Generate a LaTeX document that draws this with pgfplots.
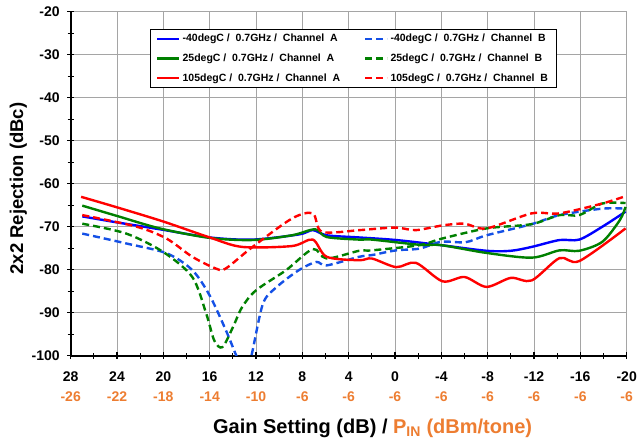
\documentclass[border=0pt]{standalone}
\usepackage{pgfplots}
\pgfplotsset{compat=1.18}
\usepackage{fontspec}
\setmainfont{Liberation Sans}
\definecolor{pinorange}{RGB}{237,125,49}
\definecolor{gridgray}{RGB}{165,165,165}
\definecolor{dblue}{RGB}{20,80,230}
\definecolor{sgreen}{RGB}{0,128,0}

\pgfplotstableread{
x y
27 -67.6
24 -69.0
20.3 -70.6
16 -72.5
12.3 -73.0
8.3 -71.8
7.1 -70.8
5.9 -72.0
3.1 -72.5
-0.1 -73.1
-4 -74.3
-7.9 -75.6
-10 -75.6
-11.8 -74.7
-14.2 -73.1
-15.9 -73.0
-17.9 -70.0
-19.9 -66.5
}\coldA
\pgfplotstableread{
x y
27 -71.6
23.2 -73.9
19.7 -76.2
17.5 -80.1
16 -86.0
14.6 -94.1
13.7 -100
13.0 -104
12.4 -100
11.4 -87.9
10.2 -84.0
8.3 -80.1
6.8 -78.2
5.9 -79.0
3.1 -77.0
2 -76.6
-0.1 -75.5
-2.1 -75.1
-4 -73.5
-6.1 -73.6
-7.9 -72.0
-11.8 -69.4
-14.2 -67.3
-17.9 -65.8
-19.9 -65.8
}\coldB
\pgfplotstableread{
x y
27 -65.1
24 -67.5
20.3 -70.4
16 -72.6
12.3 -73.1
8.9 -72.0
6.9 -70.6
5.9 -72.4
3.1 -73.0
2 -73.0
-2.1 -74.2
-4 -74.3
-7.9 -76.1
-11.8 -77.2
-14.2 -75.5
-15.9 -75.6
-17.9 -73.5
-19.4 -68.5
-19.9 -65.4
}\roomA
\pgfplotstableread{
x y
27 -69.3
23.2 -71.6
20 -75.9
17.5 -81.7
16.3 -90.2
15.6 -96.5
14.9 -98.0
14 -93.4
13.2 -88.7
12 -84.8
9.4 -80.1
7.1 -75.2
5.9 -77.4
3.1 -75.6
2 -75.5
-2.1 -74.3
-4 -72.8
-7.9 -70.4
-11.8 -69.4
-14.2 -67.3
-15.9 -67.3
-17.9 -64.6
-19.9 -64.5
}\roomB
\pgfplotstableread{
x y
27.1 -63.05
24 -65.5
20 -68.8
16 -72.5
13.2 -74.7
8.9 -74.5
7.1 -73.0
5.9 -77.0
3.1 -77.8
2 -77.4
-0.1 -79.4
-1.8 -78.4
-4.1 -82.7
-6 -81.7
-7.9 -84.0
-10 -81.9
-11.8 -82.5
-14.2 -77.3
-15.9 -78.0
-19.9 -70.4
}\hotA
\pgfplotstableread{
x y
27 -67.3
22.3 -70.0
19.7 -72.8
17.5 -77.0
15.4 -79.8
14.6 -79.7
12.3 -74.7
8.9 -68.1
7.1 -66.9
6.3 -71.2
3.1 -70.8
2.2 -70.6
-0.1 -70.2
-1.8 -70.8
-4.1 -69.7
-6 -69.3
-7.9 -70.4
-11.8 -66.9
-14.2 -66.9
-17.9 -64.6
-19.9 -62.9
}\hotB

\begin{document}
\begin{tikzpicture}
\begin{axis}[
    scale only axis,
    width=556pt, height=344pt,
    at={(0,0)}, anchor=south west,
    x dir=reverse,
    xmin=-20, xmax=28,
    ymin=-100, ymax=-20,
    axis lines=left,
    axis line style={-, black, line width=1.8pt},
    xtick={28,24,20,16,12,8,4,0,-4,-8,-12,-16,-20},
    xticklabels={{28\\\textcolor{pinorange}{-26}},{24\\\textcolor{pinorange}{-22}},
      {20\\\textcolor{pinorange}{-18}},{16\\\textcolor{pinorange}{-14}},
      {12\\\textcolor{pinorange}{-10}},{8\\\textcolor{pinorange}{-6}},
      {4\\\textcolor{pinorange}{-6}},{0\\\textcolor{pinorange}{-6}},
      {-4\\\textcolor{pinorange}{-6}},{-8\\\textcolor{pinorange}{-6}},
      {-12\\\textcolor{pinorange}{-6}},{-16\\\textcolor{pinorange}{-6}},
      {-20\\\textcolor{pinorange}{-6}}},
    ytick={-100,-90,-80,-70,-60,-50,-40,-30,-20},
    yticklabels={-100,-90,-80,-70,-60,-50,-40,-30,-20},
    minor x tick num=1, minor y tick num=1,
    tick align=center,
    major tick length=7pt, minor tick length=6pt,
    every tick/.style={black, line width=1.2pt},
    grid=major,
    major grid style={gridgray, line width=0.9pt},
    x tick label style={align=center, yshift=-9pt, font=\bfseries\fontsize{14}{20}\selectfont},
    y tick label style={font=\bfseries\fontsize{14}{17}\selectfont, xshift=-4pt},
    xlabel={\bfseries Gain Setting (dB) / \textcolor{pinorange}{P\textsubscript{IN} (dBm/tone)}},
    xlabel style={at={(axis description cs:0.543,-0.226)}, anchor=base, font=\fontsize{20}{24}\selectfont},
    ylabel={\bfseries 2x2 Rejection (dBc)},
    ylabel style={at={(axis description cs:-0.094,0.486)}, anchor=center, font=\fontsize{18.5}{22}\selectfont},
    legend columns=2,
    legend style={at={(axis description cs:0.508,0.950)}, anchor=north,
      draw=black, line width=0.8pt, fill=white,
      font=\bfseries\fontsize{10.5}{12.5}\selectfont,
      row sep=6.5pt, inner xsep=6pt, inner ysep=3pt,
      /tikz/every even column/.append style={column sep=22pt}},
    legend cell align=left,
    legend image code/.code={\draw[#1] (0pt,0pt) -- (22pt,0pt);},
    every axis plot/.append style={line width=2.4pt, smooth, tension=0.5},
]
\addplot[blue] table {\coldA};
\addlegendentry{-40degC~/~~0.7GHz~/~~Channel~~A}
\addplot[dblue, dash pattern=on 7pt off 4pt] table {\coldB};
\addlegendentry{-40degC~/~~0.7GHz~/~~Channel~~B}
\addplot[sgreen] table {\roomA};
\addlegendentry{25degC~/~~0.7GHz~/~~Channel~~A}
\addplot[sgreen, dash pattern=on 7pt off 4pt] table {\roomB};
\addlegendentry{25degC~/~~0.7GHz~/~~Channel~~B}
\addplot[red] table {\hotA};
\addlegendentry{105degC~/~~0.7GHz~/~~Channel~~A}
\addplot[red, dash pattern=on 7pt off 4pt] table {\hotB};
\addlegendentry{105degC~/~~0.7GHz~/~~Channel~~B}
\end{axis}
\pgfresetboundingbox
\path (-70.7pt,-86.3pt) rectangle (566.3pt,355.7pt);
\end{tikzpicture}
\end{document}
